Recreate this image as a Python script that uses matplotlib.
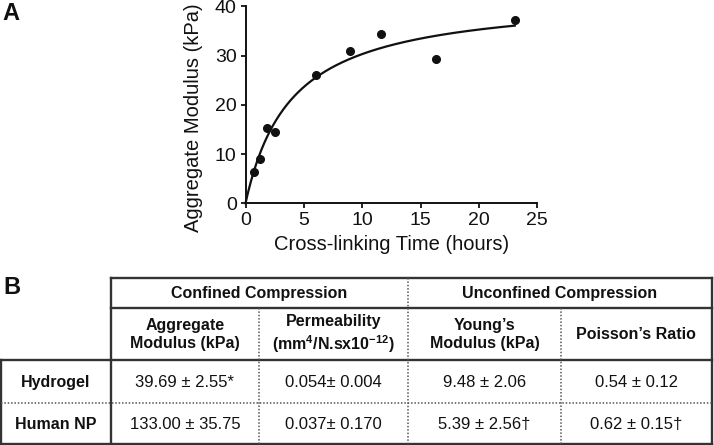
"""Panel A: aggregate modulus vs cross-linking time; panel B: mechanical properties table."""

import matplotlib
matplotlib.use("Agg")
import matplotlib.pyplot as plt
import numpy as np

plt.rcParams["font.family"] = ["Liberation Sans", "DejaVu Sans"]
plt.rcParams["mathtext.fontset"] = "custom"
plt.rcParams["mathtext.rm"] = "Liberation Sans"
plt.rcParams["mathtext.bf"] = "Liberation Sans:bold"

INK = "#111111"
LINE = "#333333"
DOT = "#555555"

# Panel A data
time_h = [0.74, 1.23, 1.85, 2.57, 6.03, 8.94, 11.6, 16.3, 23.07]
modulus_kpa = [6.42, 9.07, 15.37, 14.43, 26.0, 30.9, 34.35, 29.27, 37.3]

# Panel B table contents
group_headers = ["Confined Compression", "Unconfined Compression"]
col_headers = [
    "Aggregate\nModulus (kPa)",
    "Permeability\n(mm$^{\\mathbf{4}}$/N.sx10$^{\\mathbf{-12}}$)",
    "Young\u2019s\nModulus (kPa)",
    "Poisson\u2019s Ratio",
]
row_labels = ["Hydrogel", "Human NP"]
hydrogel_vals = ["39.69 \u00b1 2.55*", "0.054\u00b1 0.004", "9.48 \u00b1 2.06", "0.54 \u00b1 0.12"]
human_np_vals = ["133.00 \u00b1 35.75", "0.037\u00b1 0.170", "5.39 \u00b1 2.56\u2020", "0.62 \u00b1 0.15\u2020"]


def hyperbola_fit(x, y):
    """Least-squares one-site hyperbola y = Bmax*x/(K+x), grid over K."""
    x = np.asarray(x, dtype=float)
    y = np.asarray(y, dtype=float)
    best = None
    for k in np.linspace(0.5, 15, 2901):
        f = x / (k + x)
        b = np.sum(y * f) / np.sum(f * f)
        sse = np.sum((y - b * f) ** 2)
        if best is None or sse < best[0]:
            best = (sse, b, k)
    return best[1], best[2]


W, H = 714, 445
fig = plt.figure(figsize=(W / 100, H / 100), dpi=100)

# ---- Panel A ----
ax = fig.add_axes([245.5 / W, 1 - 203.3 / H, 291.8 / W, 196.8 / H])
bmax, kd = hyperbola_fit(time_h, modulus_kpa)
xs = np.linspace(0, max(time_h), 300)
ax.plot(xs, bmax * xs / (kd + xs), color=INK, lw=1.6, clip_on=False)
ax.plot(time_h, modulus_kpa, "o", color=INK, ms=5.5, clip_on=False)
ax.set_xlim(0, 25)
ax.set_ylim(0, 40)
ax.set_xticks(range(0, 26, 5))
ax.set_yticks(range(0, 41, 10))
for s in ["top", "right"]:
    ax.spines[s].set_visible(False)
for s in ["left", "bottom"]:
    ax.spines[s].set_linewidth(1.4)
    ax.spines[s].set_color(INK)
ax.tick_params(length=3.8, width=1.3, pad=2.5, labelsize=14, colors=INK)
ax.set_xlabel("Cross-linking Time (hours)", fontsize=14.5, color=INK, labelpad=4)
ax.set_ylabel("Aggregate Modulus (kPa)", fontsize=14.5, color=INK, va="center")
# label sits lower than the axis centre in the original
ax.yaxis.set_label_coords((193.5 - 245.5) / 291.8, (203.3 - 117.5) / 196.8)

# ---- Panel B (table drawn in pixel coordinates) ----
tb = fig.add_axes([0, 0, 1, 1], zorder=-1)
tb.set_xlim(0, W)
tb.set_ylim(H, 0)
tb.axis("off")

x0, x1, x2, x3, x4, x5 = 0.8, 110.7, 259.0, 408.3, 561.0, 711.7
y0, y1, y2, y3, y4 = 277.5, 307.5, 359.5, 403.3, 443.5

solid = dict(color=LINE, lw=1.7, solid_capstyle="projecting")
dotted = dict(color=DOT, lw=1.1, linestyle=(0, (1, 1.2)))

tb.plot([x1, x5], [y0, y0], **solid)
tb.plot([x1, x5], [y1, y1], **solid)
tb.plot([x0, x5], [y2, y2], **solid)
tb.plot([x0, x5], [y4, y4], **solid)
tb.plot([x1, x1], [y0, y4], **solid)
tb.plot([x5, x5], [y0, y4], **solid)
tb.plot([x0, x0], [y2, y4], **solid)
tb.plot([x3, x3], [y0, y4], **dotted)
tb.plot([x2, x2], [y1, y4], **dotted)
tb.plot([x4, x4], [y1, y4], **dotted)
tb.plot([x0, x5], [y3, y3], **dotted)

bold = dict(fontsize=11.5, fontweight="bold", color=INK, ha="center", va="center")
normal = dict(fontsize=12, color=INK, ha="center", va="center")

tb.text((x1 + x3) / 2, (y0 + y1) / 2 + 1, group_headers[0], **bold)
tb.text((x3 + x5) / 2, (y0 + y1) / 2 + 1, group_headers[1], **bold)

col_edges = [x1, x2, x3, x4, x5]
for i, label in enumerate(col_headers):
    cx = (col_edges[i] + col_edges[i + 1]) / 2
    tb.text(cx, (y1 + y2) / 2 + 1, label, linespacing=1.3, **bold)

row_edges = [y2, y3, y4]
for r, (name, vals) in enumerate(zip(row_labels, [hydrogel_vals, human_np_vals])):
    cy = (row_edges[r] + row_edges[r + 1]) / 2 + 1
    tb.text((x0 + x1) / 2, cy, name, **bold)
    for i, v in enumerate(vals):
        cx = (col_edges[i] + col_edges[i + 1]) / 2
        tb.text(cx, cy, v, **normal)

fig.text(2.5 / W, 1 - 14 / H, "A", fontsize=17, fontweight="bold", color=INK, va="center")
fig.text(3.0 / W, 1 - 288 / H, "B", fontsize=17, fontweight="bold", color=INK, va="center")

fig.savefig("out.png", dpi=100, facecolor="white")
